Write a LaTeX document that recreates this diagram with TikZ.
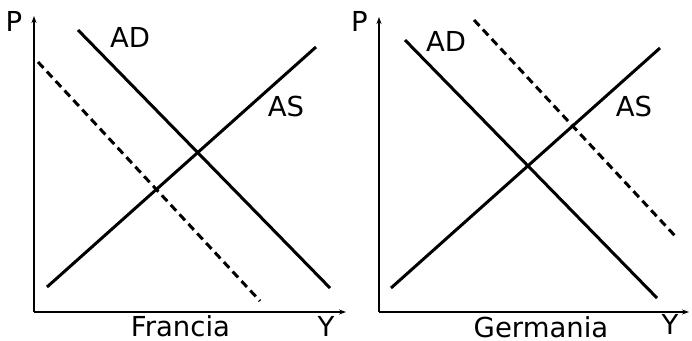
\documentclass[tikz,border=0pt]{standalone}
\usepackage{fontspec}
\setmainfont{DejaVu Sans}
\usetikzlibrary{arrows.meta}
\begin{document}
\begin{tikzpicture}[x=1pt,y=-1pt,
  axis/.style={line width=1.5pt,-{Stealth[length=7pt,width=5pt]}},
  curve/.style={line width=3pt},
  shifted/.style={line width=3pt,dash pattern=on 8pt off 5pt},
  lbl/.style={font=\fontsize{27.5}{27.5}\selectfont,inner sep=0pt,anchor=base}]
\useasboundingbox (0,0) rectangle (692,340);
% left panel
\coordinate (O1) at (34,312);
\coordinate (Y1) at (34,16);
\coordinate (X1) at (346,312);
\draw[axis] (O1) -- (Y1);
\draw[axis] (O1) -- (X1);
\coordinate (as1a) at (47,287);
\coordinate (as1b) at (316,47);
\coordinate (ad1a) at (78,30);
\coordinate (ad1b) at (330,288);
\coordinate (dd1a) at (38,62);
\coordinate (dd1b) at (260,301);
\draw[curve] (as1a) -- (as1b);
\draw[curve] (ad1a) -- (ad1b);
\draw[shifted] (dd1a) -- (dd1b);
\node[lbl] (p1) at (14,31) {P};
\node[lbl] (adl1) at (130,47) {AD};
\node[lbl] (asl1) at (286,116) {AS};
\node[lbl] (fr) at (180.5,336) {Francia};
\node[lbl] (y1) at (326,336) {Y};
% right panel
\coordinate (O2) at (379,312);
\coordinate (Y2) at (379,17);
\coordinate (X2) at (689,312);
\draw[axis] (O2) -- (Y2);
\draw[axis] (O2) -- (X2);
\coordinate (as2a) at (391,288);
\coordinate (as2b) at (660,48);
\coordinate (ad2a) at (405,40);
\coordinate (ad2b) at (657,298);
\coordinate (dd2a) at (474,20);
\coordinate (dd2b) at (677,238);
\draw[curve] (as2a) -- (as2b);
\draw[curve] (ad2a) -- (ad2b);
\draw[shifted] (dd2a) -- (dd2b);
\node[lbl] (p2) at (359.5,31) {P};
\node[lbl] (adl2) at (446,51) {AD};
\node[lbl] (asl2) at (634,116) {AS};
\node[lbl] (ge) at (541,337) {Germania};
\node[lbl] (y2) at (670,334) {Y};
\end{tikzpicture}
\end{document}
